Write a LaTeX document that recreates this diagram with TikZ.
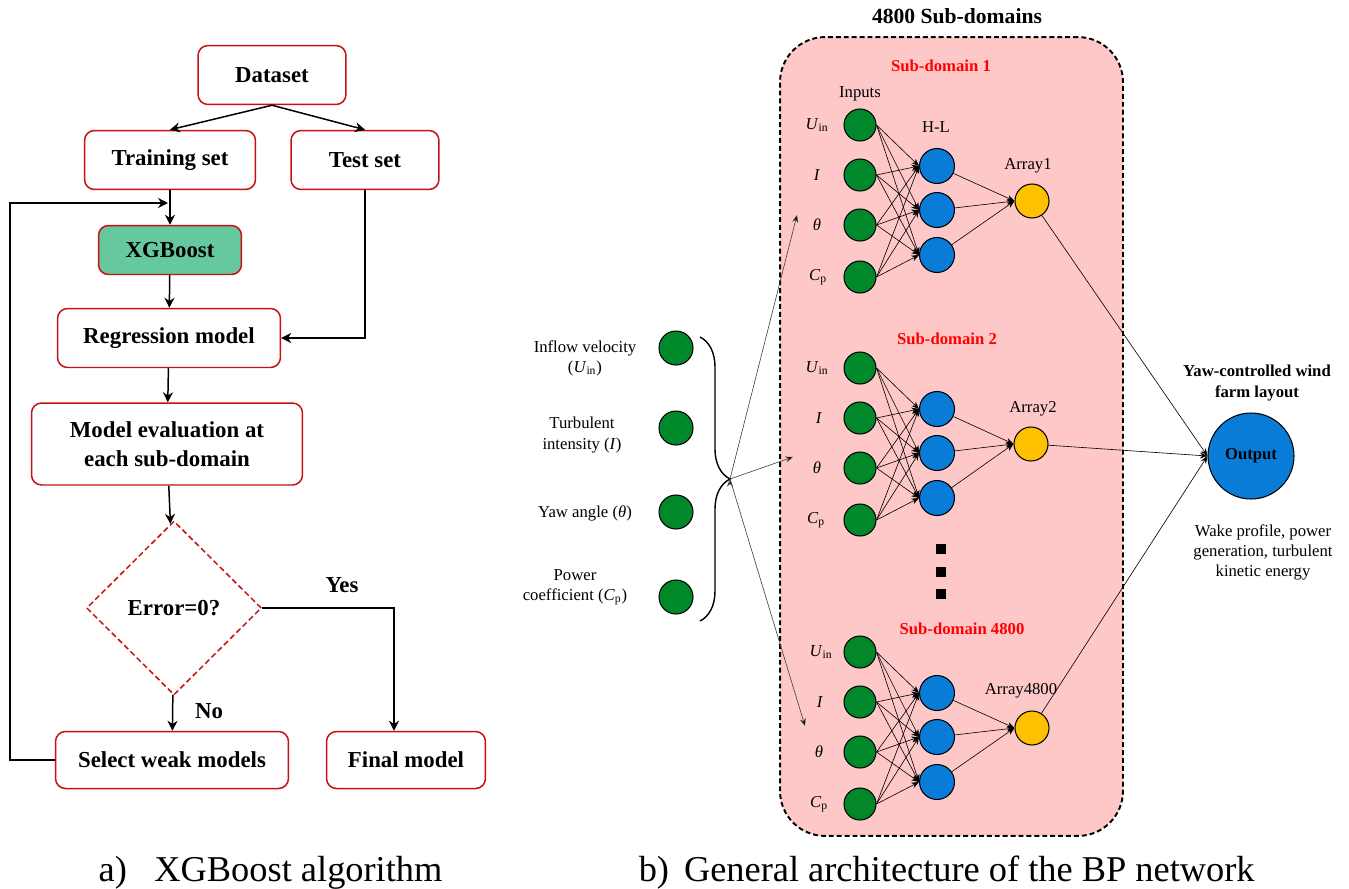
\documentclass[tikz,border=0pt]{standalone}
\usepackage{fontspec}
\setmainfont{Liberation Serif}
\usepackage{tikz}
\usetikzlibrary{shapes.geometric}
\usetikzlibrary{arrows.meta}
\usetikzlibrary{positioning}
\usetikzlibrary{calc, decorations.pathreplacing}

\definecolor{boxred}{RGB}{200,16,16}
\definecolor{xgfill}{RGB}{102,200,158}
\definecolor{pinkbg}{RGB}{255,200,200}
\definecolor{ingreen}{RGB}{0,136,42}
\definecolor{hlblue}{RGB}{8,124,214}
\definecolor{arryellow}{RGB}{255,192,0}
\definecolor{subred}{RGB}{255,0,0}

\newcommand{\fsflow}{\bfseries\fontsize{13}{16.5}\selectfont}
\newcommand{\fsnet}{\fontsize{9.5}{11.4}\selectfont}
\newcommand{\fsnetb}{\bfseries\fontsize{9.5}{11.4}\selectfont}
\newcommand{\fscap}{\fontsize{20.7}{24}\selectfont}
\newcommand{\Uin}{\textit{U}\textsubscript{in}}
\newcommand{\Cp}{\textit{C}\textsubscript{p}}

\begin{document}
\begin{tikzpicture}[x=0.02cm,y=-0.02cm,>={Stealth[length=2mm,width=2mm]},line width=0.85pt]
 \tikzstyle{flow node}=[rectangle,rounded corners=2mm,draw=boxred,inner sep=0,align=center,font=\fsflow]
 \tikzstyle{test node}=[diamond,draw=boxred,dash pattern=on 3.2pt off 1.8pt,inner sep=0,minimum width=3.5cm,minimum height=3.48cm,font=\fsflow]
 \tikzstyle{label node}=[inner sep=1,font=\fsflow]
 \tikzset{
 	in node/.style={circle,draw=black,fill=ingreen,line width=0.6pt,inner sep=0,minimum size=0.64cm},
 	hl node/.style={circle,draw=black,fill=hlblue,line width=0.6pt,inner sep=0,minimum size=0.70cm},
 	arr node/.style={circle,draw=black,fill=arryellow,line width=0.6pt,inner sep=0,minimum size=0.68cm},
 	var node/.style={inner sep=1,font=\fsnet},
 	title node/.style={inner sep=1,font=\fsnetb,text=subred},
 	dot node/.style={rectangle,fill=black,inner sep=0,minimum size=0.2cm},
 	net/.style={->,line width=0.35pt,>={Stealth[length=1.5mm,width=1.2mm]}}
 }
 \useasboundingbox (0,0) rectangle (1349,889);

       % flowchart
       \node[flow node,minimum width=2.96cm,minimum height=1.18cm] (ds) at (272,75) {Dataset};
       \node[flow node,minimum width=3.42cm,minimum height=1.18cm] (tr) at (170,160) {Training set};
       \node[flow node,minimum width=2.96cm,minimum height=1.18cm] (te) at (365,160) {Test set};
       \node[flow node,fill=xgfill,minimum width=2.86cm,minimum height=0.98cm] (xg) at (170,250) {XGBoost};
       \node[flow node,minimum width=4.46cm,minimum height=1.18cm] (reg) at (169,338) {Regression model};
       \node[flow node,minimum width=5.42cm,minimum height=1.64cm] (ev) at (167,444) {Model evaluation at\\each sub-domain};
       \node[test node] (err) at (174,608) {Error=0?};
       \node[flow node,minimum width=4.66cm,minimum height=1.14cm] (sw) at (172,760) {Select weak models};
       \node[flow node,minimum width=3.18cm,minimum height=1.14cm] (fm) at (406,760) {Final model};
       \node[label node] (yes) at (342,585) {Yes};
       \node[label node] (no) at (209,711) {No};
       \coordinate (fb) at (168,203);

     \path[->]  (ds.south) edge (tr.north) edge (te.north);
     \path[->]  (tr.south) edge (tr.south |- xg.north);
     \path[->]  (xg) edge (reg);
     \path[->]  (reg) edge (ev);
     \path[->]  (ev) edge (err);
     \path[->]  (err) edge (sw);
     \draw[->]  (te.south) |- (reg.east);
     \draw[->]  (err.east) -| ($(fm.north)+(-12,0)$);
     \draw[->]  (sw.west) -| (10,203) -- (fb);

       % sub-domains box
       \node[fill=pinkbg,draw=black,line width=1.1pt,dash pattern=on 2.8pt off 1.7pt,rounded corners=0.9cm,minimum width=6.86cm,minimum height=15.98cm] (dom) at (951.5,436.5) {};
       \node[inner sep=1,font=\bfseries\fontsize{12.3}{14}\selectfont] (doms) at (957,16) {4800 Sub-domains};

       % sub-domain 1
       \node[title node] (s1) at (941,66) {Sub-domain 1};
       \node[var node] (inp) at (860,94) {Inputs};
       \node[var node] (hl) at (936,127) {H-L};
       \node[in node] (u1) at (860,125) {};
       \node[in node] (i1) at (860,175) {};
       \node[in node] (t1) at (860,225) {};
       \node[in node] (c1) at (860,277) {};
       \node[var node] (lu1) at (817,125) {\Uin};
       \node[var node] (li1) at (817,175) {\textit{I}};
       \node[var node] (lt1) at (817,225) {\textit{θ}};
       \node[var node] (lc1) at (818,277) {\Cp};
       \node[hl node] (h11) at (937,166) {};
       \node[hl node] (h12) at (937,210) {};
       \node[hl node] (h13) at (937,255) {};
       \node[arr node] (ar1) at (1032,201) {};
       \node[var node] (la1) at (1028,166) {Array1};

     \path[net]  (u1.east) edge (h11.west) edge (h12.west) edge (h13.west);
     \path[net]  (i1.east) edge (h11.west) edge (h12.west) edge (h13.west);
     \path[net]  (t1.east) edge (h11.west) edge (h12.west) edge (h13.west);
     \path[net]  (c1.east) edge (h11.west) edge (h12.west) edge (h13.west);
     \path[net]  (h11) edge (ar1.west) (h12) edge (ar1.west) (h13) edge (ar1.west);

       % sub-domain 2
       \node[title node] (s2) at (947,339) {Sub-domain 2};
       \node[in node] (u2) at (860,368) {};
       \node[in node] (i2) at (860,418) {};
       \node[in node] (t2) at (860,468) {};
       \node[in node] (c2) at (860,520) {};
       \node[var node] (lu2) at (817,368) {\Uin};
       \node[var node] (li2) at (819,418) {\textit{I}};
       \node[var node] (lt2) at (817,468) {\textit{θ}};
       \node[var node] (lc2) at (816,520) {\Cp};
       \node[hl node] (h21) at (937,409) {};
       \node[hl node] (h22) at (937,453) {};
       \node[hl node] (h23) at (937,498) {};
       \node[arr node] (ar2) at (1031,444) {};
       \node[var node] (la2) at (1033,409) {Array2};

     \path[net]  (u2.east) edge (h21.west) edge (h22.west) edge (h23.west);
     \path[net]  (i2.east) edge (h21.west) edge (h22.west) edge (h23.west);
     \path[net]  (t2.east) edge (h21.west) edge (h22.west) edge (h23.west);
     \path[net]  (c2.east) edge (h21.west) edge (h22.west) edge (h23.west);
     \path[net]  (h21) edge (ar2.west) (h22) edge (ar2.west) (h23) edge (ar2.west);

       \node[dot node] (d1) at (941,549) {};
       \node[dot node] (d2) at (941,572) {};
       \node[dot node] (d3) at (941,594) {};

       % sub-domain 4800
       \node[title node] (s3) at (962,629) {Sub-domain 4800};
       \node[in node] (u3) at (860,652) {};
       \node[in node] (i3) at (860,702) {};
       \node[in node] (t3) at (860,752) {};
       \node[in node] (c3) at (860,804) {};
       \node[var node] (lu3) at (821,652) {\Uin};
       \node[var node] (li3) at (820,702) {\textit{I}};
       \node[var node] (lt3) at (819,752) {\textit{θ}};
       \node[var node] (lc3) at (819,804) {\Cp};
       \node[hl node] (h31) at (937,693) {};
       \node[hl node] (h32) at (937,737) {};
       \node[hl node] (h33) at (937,782) {};
       \node[arr node] (ar3) at (1032,728) {};
       \node[var node] (la3) at (1021,691) {Array4800};

     \path[net]  (u3.east) edge (h31.west) edge (h32.west) edge (h33.west);
     \path[net]  (i3.east) edge (h31.west) edge (h32.west) edge (h33.west);
     \path[net]  (t3.east) edge (h31.west) edge (h32.west) edge (h33.west);
     \path[net]  (c3.east) edge (h31.west) edge (h32.west) edge (h33.west);
     \path[net]  (h31) edge (ar3.west) (h32) edge (ar3.west) (h33) edge (ar3.west);

       % inputs on the left
       \node[in node,minimum size=0.68cm] (pu) at (676,348) {};
       \node[in node,minimum size=0.68cm] (pi) at (676,428) {};
       \node[in node,minimum size=0.68cm] (pt) at (676,512) {};
       \node[in node,minimum size=0.68cm] (pc) at (676,597) {};
       \node[var node,align=center] (lpu) at (585,358) {Inflow velocity\\(\Uin)};
       \node[var node,align=center] (lpi) at (582,435) {Turbulent\\intensity (\textit{I})};
       \node[var node] (lpt) at (585,513) {Yaw angle (\textit{θ})};
       \node[var node,align=center] (lpc) at (575,587) {Power\\coefficient (\Cp)};
     \draw[decorate,decoration={brace,amplitude=0.6cm},line width=0.8pt] (700,337) -- (700,621);
       \coordinate (bt) at (730,479);
       \coordinate (a1) at (797,215);
       \coordinate (a2) at (793,457);
       \coordinate (a3) at (805,726);
     \path[net,draw=black!75]  (bt) edge (a1) edge (a2) edge (a3);

       % output
       \node[circle,draw=black,fill=hlblue,line width=0.6pt,inner sep=0,minimum size=1.72cm,font=\fsnetb] (out) at (1251,456) {Output};
       \node[var node,font=\fsnetb,align=center] (lout) at (1257,383) {Yaw-controlled wind\\farm layout};
       \node[var node,align=center] (lres) at (1263,552) {Wake profile, power\\generation, turbulent\\kinetic energy};
     \path[net]  (ar1) edge (out.west);
     \path[net]  (ar2) edge (out.west);
     \path[net]  (ar3) edge (out.west);

       % captions
       \node[anchor=base west,inner sep=0,font=\fscap] (capa) at (98,881) {a)\hspace{0.55cm}XGBoost algorithm};
       \node[anchor=base west,inner sep=0,font=\fscap] (capb) at (638,881) {b)\hspace{0.3cm}General architecture of the BP network};
 \end{tikzpicture}
\end{document}
